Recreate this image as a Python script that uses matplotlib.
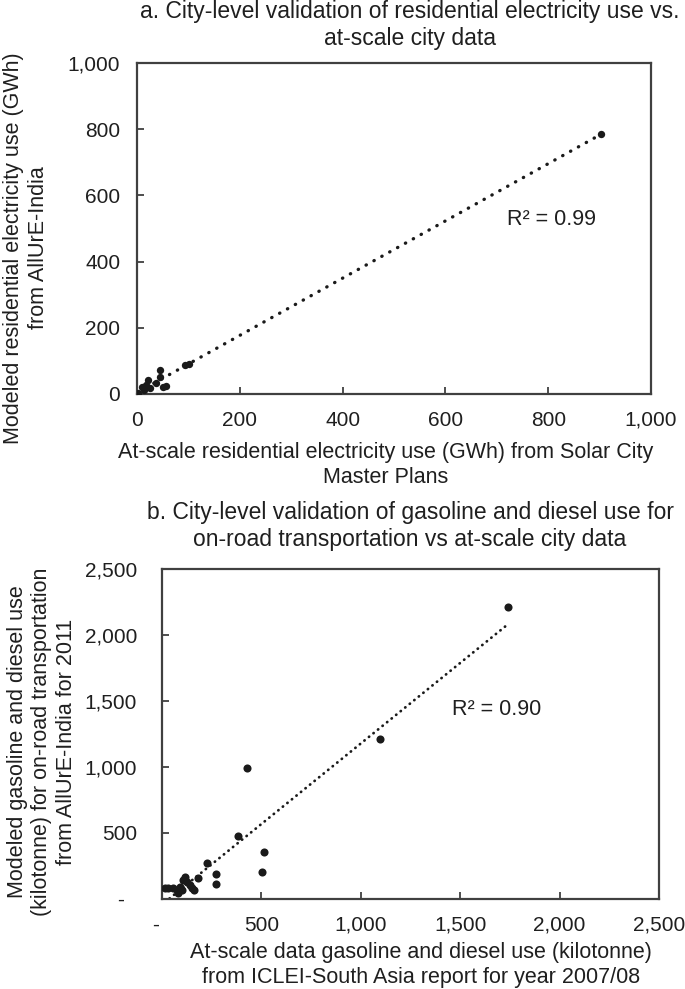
import matplotlib.pyplot as plt
import numpy as np
from matplotlib.ticker import FuncFormatter

plt.rcParams['font.family'] = ['Liberation Sans', 'DejaVu Sans']

# a. residential electricity (GWh)
res_at_scale = [903, 93, 102, 45, 44, 21, 51, 57, 36, 10, 2, 14, 25, 17]
res_modeled = [786, 88, 91, 71, 51, 43, 20, 24, 32, 22, 2, 12, 17, 27]
res_ticks = [0, 200, 400, 600, 800, 1000]

# b. gasoline and diesel (kilotonne)
fuel_at_scale = [1740, 1097, 428, 384, 513, 505, 270, 270, 225, 179, 163, 116,
                 108, 124, 141, 149, 91, 74, 57, 32, 15, 82, 99]
fuel_modeled = [2210, 1212, 992, 480, 356, 207, 189, 114, 275, 156, 68, 169,
                144, 131, 106, 80, 93, 68, 80, 80, 80, 47, 68]
fuel_ticks = [0, 500, 1000, 1500, 2000, 2500]

text_color = '#1f1f1f'
spine_color = '#404040'
tick_fs = 15
label_fs = 15.5
title_fs = 16.5
W, H = 685, 989


def comma_fmt(v, pos):
    return f"{int(round(v)):,}"


def dash_fmt(v, pos):
    # accounting style: zero shown as a dash
    if abs(v) < 1e-9:
        return "-\u2007"
    return f"{int(round(v)):,}"


def fx(px):
    return px / W


def fy(py):
    return 1 - py / H


def draw_panel(ax, x, y, ticks, fmt, dot_size, trend_ls, r2_text, r2_pos, ypad):
    x = np.asarray(x, dtype=float)
    y = np.asarray(y, dtype=float)
    ax.scatter(x, y, s=dot_size, color='#1a1a1a', zorder=3, linewidths=0)

    # linear trendline over data range
    slope, intercept = np.polyfit(x, y, 1)
    xs = np.array([x.min(), x.max()])
    ax.plot(xs, slope * xs + intercept, color='#1a1a1a', linewidth=trend_ls[0],
            linestyle=(0, trend_ls[1]), dash_capstyle='round', zorder=2)

    ax.text(r2_pos[0], r2_pos[1], r2_text, fontsize=label_fs, color=text_color,
            va='center')

    ax.set_xlim(ticks[0], ticks[-1])
    ax.set_ylim(ticks[0], ticks[-1])
    ax.set_xticks(ticks)
    ax.set_yticks(ticks)
    ax.xaxis.set_major_formatter(FuncFormatter(fmt))
    ax.yaxis.set_major_formatter(FuncFormatter(fmt))
    ax.tick_params(direction='in', length=5, width=1.3, color=spine_color,
                   labelsize=tick_fs, labelcolor=text_color)
    ax.tick_params(axis='x', pad=12)
    ax.tick_params(axis='y', pad=ypad)
    for sp in ax.spines.values():
        sp.set_color(spine_color)
        sp.set_linewidth(1.6)


fig = plt.figure(figsize=(W / 100, H / 100), dpi=100)

# panel a
ax1 = fig.add_axes([fx(137), fy(394), fx(651) - fx(137), fy(63) - fy(394)])
draw_panel(ax1, res_at_scale, res_modeled, res_ticks, comma_fmt, 28,
           (2.4, (0.1, 2.6)), "R² = 0.99", (720, 527), 12)
fig.text(fx(410), fy(25), "a. City-level validation of residential electricity use vs.\nat-scale city data",
         fontsize=title_fs, color=text_color, ha='center', va='center', linespacing=1.2)
fig.text(fx(386), fy(465), "At-scale residential electricity use (GWh) from Solar City\nMaster Plans",
         fontsize=label_fs, color=text_color, ha='center', va='center', linespacing=1.2)
fig.text(fx(26), fy(248), "Modeled residential electricity use (GWh)\nfrom AllUrE-India",
         fontsize=label_fs, color=text_color, ha='center', va='center', rotation=90,
         linespacing=1.2)

# panel b
ax2 = fig.add_axes([fx(162), fy(899), fx(659) - fx(162), fy(569) - fy(899)])
draw_panel(ax2, fuel_at_scale, fuel_modeled, fuel_ticks, dash_fmt, 34,
           (2.0, (0.1, 2.0)), "R² = 0.90", (1460, 1432), 18)
fig.text(fx(410), fy(526), "b. City-level validation of gasoline and diesel use for\non-road transportation vs at-scale city data",
         fontsize=title_fs, color=text_color, ha='center', va='center', linespacing=1.2)
fig.text(fx(421), fy(965), "At-scale data gasoline and diesel use (kilotonne)\nfrom ICLEI-South Asia report for year 2007/08",
         fontsize=label_fs, color=text_color, ha='center', va='center', linespacing=1.2)
fig.text(fx(42), fy(742), "Modeled gasoline and diesel use\n(kilotonne) for on-road transportation\nfrom AllUrE-India for 2011",
         fontsize=label_fs, color=text_color, ha='center', va='center', rotation=90,
         linespacing=1.2)

fig.savefig('out.png', dpi=100)
